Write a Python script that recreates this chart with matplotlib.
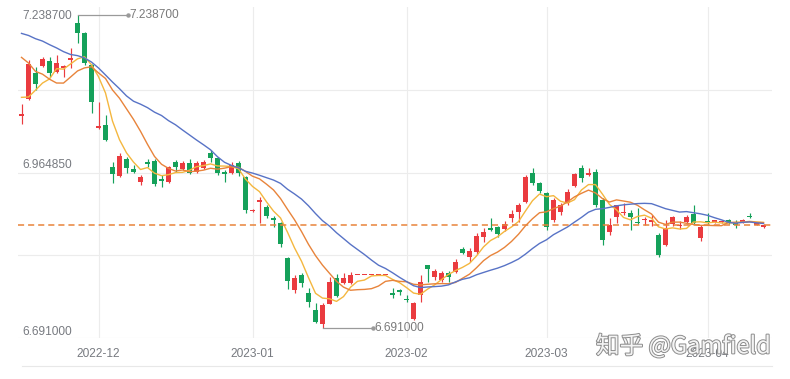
import numpy as np
import pandas as pd
import matplotlib
matplotlib.use('Agg')
import matplotlib.pyplot as plt
import matplotlib.patheffects as pe
import matplotlib.transforms as mtransforms
from matplotlib.lines import Line2D

# 日线数据：2022-11-16 起的 107 个交易日
start_date = '2022-11-16'
n_days = 107

open_ = [7.062, 7.092, 7.137, 7.150, 7.158, 7.139, 7.147, 7.161, 7.225, 7.207,
         7.151, 7.042, 7.046, 6.973, 6.957, 6.987, 6.969, 6.946, 6.981, 6.983,
         6.951, 6.946, 6.981, 6.969, 6.980, 6.964, 6.971, 6.997, 6.988, 6.964,
         6.962, 6.980, 6.955, 6.896, 6.912, 6.903, 6.884, 6.875, 6.814, 6.757,
         6.784, 6.752, 6.722, 6.698, 6.733, 6.779, 6.770, 6.770, 6.783, 6.783,
         6.783, 6.783, 6.783, 6.752, 6.757, 6.742, 6.707, 6.749, 6.801, 6.780,
         6.775, 6.787, 6.789, 6.830, 6.815, 6.824, 6.850, 6.866, 6.868, 6.864,
         6.884, 6.894, 6.912, 6.962, 6.945, 6.927, 6.880, 6.894, 6.910, 6.940,
         6.971, 6.959, 6.964, 6.915, 6.859, 6.885, 6.892, 6.892, 6.877, 6.880,
         6.876, 6.854, 6.836, 6.873, 6.869, 6.876, 6.890, 6.849, 6.877, 6.877,
         6.876, 6.880, 6.877, 6.876, 6.887, 6.872, 6.868]
close = [7.066, 7.153, 7.118, 7.162, 7.137, 7.156, 7.149, 7.163, 7.207, 7.155,
         7.086, 7.045, 7.020, 6.961, 6.992, 6.971, 6.964, 6.955, 6.978, 6.943,
         6.949, 6.973, 6.973, 6.980, 6.962, 6.980, 6.982, 6.988, 6.962, 6.961,
         6.976, 6.962, 6.898, 6.898, 6.915, 6.887, 6.881, 6.838, 6.773, 6.778,
         6.770, 6.737, 6.701, 6.731, 6.772, 6.747, 6.779, 6.783, 6.783, 6.783,
         6.783, 6.783, 6.783, 6.749, 6.754, 6.740, 6.735, 6.772, 6.794, 6.791,
         6.787, 6.780, 6.806, 6.822, 6.826, 6.852, 6.859, 6.862, 6.855, 6.873,
         6.891, 6.906, 6.955, 6.945, 6.931, 6.868, 6.915, 6.906, 6.929, 6.961,
         6.953, 6.962, 6.906, 6.845, 6.871, 6.906, 6.895, 6.885, 6.875, 6.882,
         6.880, 6.819, 6.866, 6.885, 6.872, 6.885, 6.875, 6.868, 6.876, 6.878,
         6.878, 6.875, 6.871, 6.880, 6.885, 6.873, 6.871]
low = [7.048, 7.090, 7.107, 7.148, 7.130, 7.137, 7.130, 7.146, 7.190, 7.151,
       7.067, 7.040, 7.019, 6.945, 6.955, 6.962, 6.962, 6.941, 6.973, 6.940,
       6.938, 6.945, 6.964, 6.967, 6.960, 6.962, 6.969, 6.981, 6.959, 6.946,
       6.960, 6.957, 6.892, 6.895, 6.875, 6.883, 6.868, 6.833, 6.759, 6.752,
       6.763, 6.728, 6.700, 6.691, 6.733, 6.745, 6.768, 6.768, 6.783, 6.783,
       6.783, 6.783, 6.783, 6.743, 6.749, 6.737, 6.705, 6.737, 6.772, 6.775,
       6.772, 6.772, 6.787, 6.820, 6.807, 6.820, 6.841, 6.861, 6.850, 6.861,
       6.877, 6.877, 6.910, 6.941, 6.927, 6.863, 6.877, 6.889, 6.906, 6.938,
       6.946, 6.957, 6.903, 6.836, 6.854, 6.875, 6.889, 6.862, 6.873, 6.871,
       6.869, 6.815, 6.834, 6.869, 6.864, 6.874, 6.874, 6.843, 6.874, 6.875,
       6.875, 6.873, 6.866, 6.875, 6.883, 6.871, 6.866]
high = [7.083, 7.160, 7.148, 7.165, 7.165, 7.169, 7.151, 7.181, 7.2387, 7.209,
        7.153, 7.087, 7.064, 6.982, 6.997, 6.991, 6.976, 6.959, 6.987, 6.987,
        6.959, 6.975, 6.985, 6.984, 6.987, 6.983, 6.986, 7.002, 6.990, 6.967,
        6.982, 6.983, 6.957, 6.899, 6.920, 6.906, 6.887, 6.877, 6.815, 6.784,
        6.787, 6.761, 6.735, 6.735, 6.780, 6.786, 6.787, 6.789, 6.783, 6.783,
        6.783, 6.783, 6.783, 6.761, 6.759, 6.749, 6.737, 6.784, 6.802, 6.794,
        6.790, 6.791, 6.812, 6.833, 6.831, 6.857, 6.866, 6.883, 6.870, 6.878,
        6.897, 6.910, 6.959, 6.971, 6.946, 6.929, 6.918, 6.910, 6.934, 6.962,
        6.976, 6.971, 6.969, 6.918, 6.883, 6.907, 6.910, 6.897, 6.901, 6.885,
        6.889, 6.857, 6.880, 6.888, 6.878, 6.889, 6.906, 6.871, 6.892, 6.881,
        6.879, 6.882, 6.880, 6.882, 6.892, 6.874, 6.873]
# 窗口之前的收盘价，只用来算均线的开头部分
warmup_close = [7.225, 7.232, 7.245, 7.262, 7.270, 7.280, 7.262, 7.248, 7.235, 7.231,
                7.252, 7.265, 7.210, 7.225, 7.223, 7.150, 7.058, 7.100, 7.101]

up_color = '#ea3b3f'
down_color = '#15a15a'
ma_colors = {5: '#f4b73f', 10: '#e8843b', 20: '#5873c6'}
grid_color = '#ececec'
label_color = '#777a80'

plt.rcParams['font.family'] = ['Liberation Sans', 'DejaVu Sans']

dates = pd.bdate_range(start_date, periods=n_days)
x = np.arange(n_days)
o = np.array(open_)
c = np.array(close)
lo = np.array(low)
hi = np.array(high)

all_close = pd.Series(warmup_close + close)
ma = {n: all_close.rolling(n).mean().values[len(warmup_close):] for n in (5, 10, 20)}

fig = plt.figure(figsize=(7.9, 3.79), dpi=100)
W, H = 790, 379
ax = fig.add_axes([18 / W, 1 - 338 / H, (772 - 18) / W, 331 / H])

# y 轴范围：最高点在 y=15px，最低点在 y=328px
hmax, lmin = hi.max(), lo.min()
k = (hmax - lmin) / (328 - 15.3)
ytop = hmax + (15.3 - 7) * k
ybot = lmin - (338 - 328) * k
ax.set_ylim(ybot, ytop)
ax.set_xlim(-0.5, -0.5 + (772 - 18) / 7.0)

for v in np.linspace(ybot, ytop, 5)[:-1]:
    ax.axhline(v, color=grid_color, lw=0.8, zorder=0)

month_idx = [i for i in range(1, n_days) if dates[i].month != dates[i - 1].month]
for i in month_idx:
    ax.axvline(i, color=grid_color, lw=0.8, zorder=0)
ax.set_xticks(month_idx)
ax.set_xticklabels([dates[i].strftime('%Y-%m') for i in month_idx])
ax.tick_params(axis='x', length=0, pad=7, labelsize=8.6, labelcolor=label_color)
ax.set_yticks([])
for s in ax.spines.values():
    s.set_visible(False)

# K 线
colors = [up_color if cc >= oo else down_color for oo, cc in zip(o, c)]
ax.vlines(x, lo, hi, colors=colors, lw=0.85, zorder=2)
body_low = np.minimum(o, c)
body_h = np.maximum(np.abs(c - o), 1.4 * k)
ax.bar(x, body_h, bottom=body_low, width=0.6, color=colors, lw=0, zorder=3)

# 均线
for n in (5, 10, 20):
    ax.plot(x, ma[n], color=ma_colors[n], lw=1.0, zorder=4)

# 最新价虚线
ax.axhline(c[-1], color='#e8843b', lw=1.1, ls=(0, (4, 2.6)), zorder=5)

# 最高/最低标注
for idx, val in ((int(hi.argmax()), hmax), (int(lo.argmin()), lmin)):
    ax.plot([idx, idx + 50 / 7.0], [val, val], color='#9a9a9a', lw=0.9, zorder=6)
    ax.plot([idx + 50 / 7.0], [val], 'o', ms=2.2, color='#9a9a9a', zorder=6)
    ax.text(idx + 52 / 7.0, val, f'{val:.6f}', va='center', ha='left',
            fontsize=8.6, color='#7a7a7a', zorder=6)

# y 轴标签（最高、中间、最低）
for val, dy in ((hmax, -1), ((hmax + lmin) / 2, 6.5), (lmin, -3.5)):
    t = mtransforms.offset_copy(ax.transData, fig=fig, x=0, y=dy, units='dots')
    ax.text(-0.5 + 4 / 7.0, val, f'{val:.6f}', transform=t, va='center', ha='left',
            fontsize=8.6, color=label_color, zorder=6)

fig.add_artist(Line2D([22 / W, 772 / W], [1 - 366 / H] * 2, color='#e8e8e8', lw=0.8))

# 水印
fig.text(596 / W, 1 - 346 / H, '知乎 @Gamfield', family=['Noto Sans CJK SC', 'DejaVu Sans'],
         fontsize=17, color='#f4f4f4', va='center', ha='left',
         path_effects=[pe.withStroke(linewidth=1.4, foreground='#8c8c8c')])

fig.savefig('out.png', dpi=100)
